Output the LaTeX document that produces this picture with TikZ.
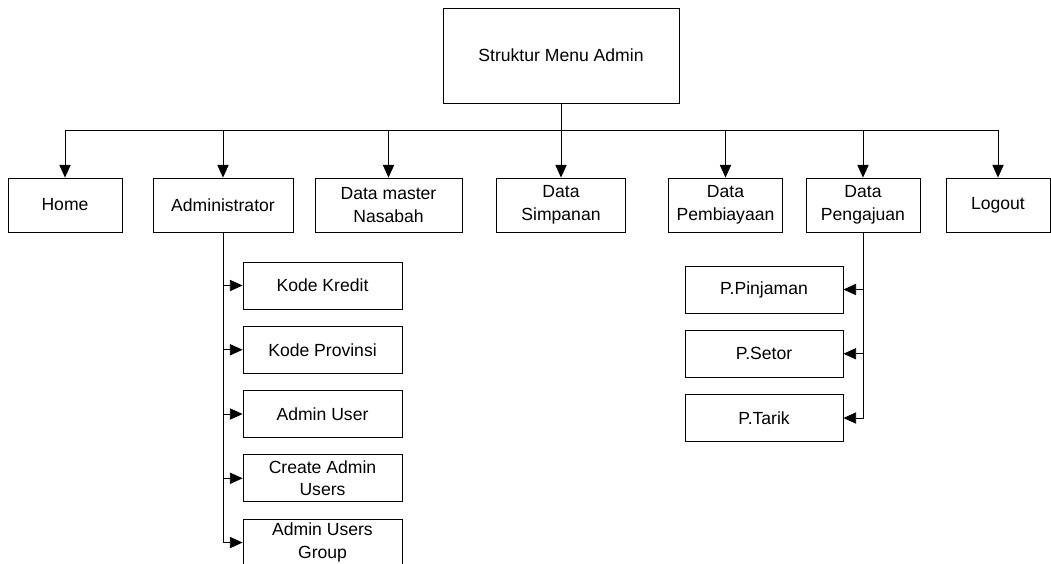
\documentclass[tikz,border=0pt]{standalone}
\usepackage{fontspec}
\setmainfont{Liberation Sans}
\usetikzlibrary{positioning, arrows.meta}
\tikzset{
>={Triangle[length=9pt, width=8pt]}, % filled arrow heads
every node/.style={font=\fontsize{12.5}{16}\selectfont, align=center},
menu/.style={draw, inner sep=0pt, minimum height=1.35cm}, % boxes of the top row
submenu/.style={draw, inner sep=0pt, minimum height=1.175cm}, % boxes below them
elbow/.style={->, to path={-| (\tikztotarget)}}, % bus down to a box
side/.style={->, to path={|- (\tikztotarget)}}, % trunk across to a box
}

\begin{document}
\begin{tikzpicture}[x=0.025cm, y=-0.025cm, line width=0.6pt]
        \useasboundingbox (0,0) rectangle (1051,564);
        \node[draw, inner sep=0pt, minimum width=5.9cm, minimum height=2.375cm] (root) at (561,55.5) {Struktur Menu Admin};
        \coordinate (bus) at (561,130);
        % top row
        \node[menu, minimum width=2.85cm] (home) at (65,205) {Home};
        \node[menu, minimum width=3.5cm] (admin) at (223,205) {Administrator};
        \node[menu, minimum width=3.675cm] (nasabah) at (388.5,205) {Data master\\Nasabah};
        \node[menu, minimum width=3.225cm] (simpanan) at (561,205) {Data\\Simpanan};
        \node[menu, minimum width=2.85cm] (pembiayaan) at (725.5,205) {Data\\Pembiayaan};
        \node[menu, minimum width=2.85cm] (pengajuan) at (863,205) {Data\\Pengajuan};
        \node[menu, minimum width=2.6cm] (logout) at (998,205) {Logout};
        % under Administrator
        \node[submenu, minimum width=3.975cm] (kredit) at (322.5,285.5) {Kode Kredit};
        \node[submenu, minimum width=3.975cm, below=0.41cm of kredit] (provinsi) {Kode Provinsi};
        \node[submenu, minimum width=3.975cm, below=0.41cm of provinsi] (user) {Admin User};
        \node[submenu, minimum width=3.975cm, below=0.41cm of user] (create) {Create Admin\\Users};
        \node[submenu, minimum width=3.975cm, below=0.41cm of create] (group) {Admin Users\\Group};
        % under Data Pengajuan
        \node[submenu, minimum width=3.95cm] (pinjaman) at (764,289.5) {P.Pinjaman};
        \node[submenu, minimum width=3.95cm, below=0.41cm of pinjaman] (setor) {P.Setor};
        \node[submenu, minimum width=3.95cm, below=0.41cm of setor] (tarik) {P.Tarik};
        \draw (root.south) -- (bus);
        \draw
        (bus) edge[elbow] (home.north)
        (bus) edge[elbow] (admin.north)
        (bus) edge[elbow] (nasabah.north)
        (bus) edge[elbow] (simpanan.north)
        (bus) edge[elbow] (pembiayaan.north)
        (bus) edge[elbow] (pengajuan.north)
        (bus) edge[elbow] (logout.north)
        %Administrator
        (admin.south) edge[side] (kredit.west)
        (admin.south) edge[side] (provinsi.west)
        (admin.south) edge[side] (user.west)
        (admin.south) edge[side] (create.west)
        (admin.south) edge[side] (group.west)
        %Data Pengajuan
        (pengajuan.south) edge[side] (pinjaman.east)
        (pengajuan.south) edge[side] (setor.east)
        (pengajuan.south) edge[side] (tarik.east)
        ;\end{tikzpicture}
\end{document}
